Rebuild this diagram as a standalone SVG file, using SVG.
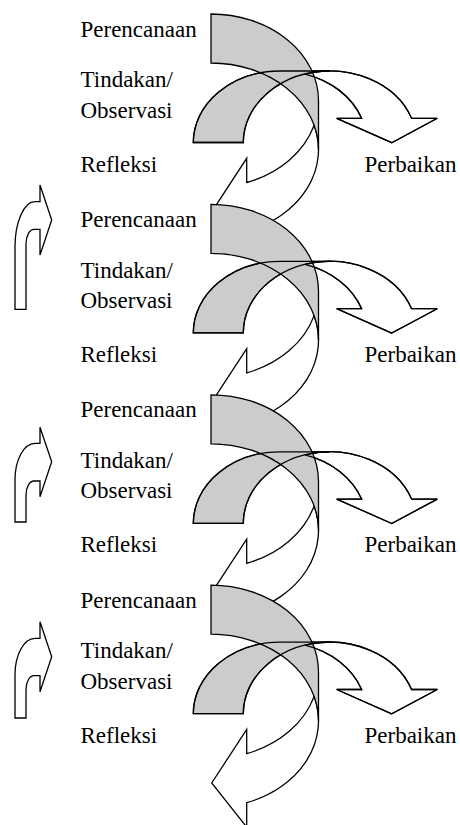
<svg xmlns="http://www.w3.org/2000/svg" xmlns:xlink="http://www.w3.org/1999/xlink" width="460" height="825" viewBox="0 0 460 825">
<style>
.ln { stroke:#000; stroke-width:1.3; stroke-linejoin:miter; }
.w { fill:#ffffff; }
.g { fill:#cccccc; }
.o { fill:none; }
text { font-family:"Liberation Serif","Times New Roman",serif; font-size:23px; fill:#000; }
</style>
<defs>
  <path id="cFront" d="M 211.7,211.8 L 246.7,158.3 L 246.7,182.5 A 107.5 86.7 0 0 0 314.1,125.2 A 107.5 86.7 0 0 1 246.7,231.5 L 246.7,255.9 Z"/>
  <path id="cBack" d="M 318.5,149.7 A 107.5 86.7 0 0 0 211,63 L 211,14 A 107.5 86.7 0 0 1 318.5,100.7 Z"/>
  <path id="bBack" d="M 193.3,142.5 A 86.7 71.5 0 0 1 280,71 L 330,71 A 86.7 71.5 0 0 0 243.3,142.5 Z"/>
  <path id="bFront" d="M 391.7,142.7 L 336.7,118.3 L 361.6,118.3 A 86.7 71.5 0 0 0 305,74.04 A 86.7 71.5 0 0 1 411.6,118.3 L 437.3,118.3 Z"/>
</defs>

<g id="connectors">
  <g id="cycle1">
    <g id="refleksi-arrow-1"><use xlink:href="#cFront" class="w ln"/></g>
    <g id="tindakan-arrow-1"><use xlink:href="#bFront" class="w ln"/><use xlink:href="#bBack" class="g ln"/></g>
    <g id="perencanaan-arrow-1"><use xlink:href="#cBack" class="g ln"/></g>
    <use xlink:href="#bBack" class="o ln"/><use xlink:href="#bFront" class="o ln"/>
  </g>
  <g id="cycle2" transform="translate(0,190.4)">
    <g id="refleksi-arrow-2"><use xlink:href="#cFront" class="w ln"/></g>
    <g id="tindakan-arrow-2"><use xlink:href="#bFront" class="w ln"/><use xlink:href="#bBack" class="g ln"/></g>
    <g id="perencanaan-arrow-2"><use xlink:href="#cBack" class="g ln"/></g>
    <use xlink:href="#bBack" class="o ln"/><use xlink:href="#bFront" class="o ln"/>
  </g>
  <g id="cycle3" transform="translate(0,380.8)">
    <g id="refleksi-arrow-3"><use xlink:href="#cFront" class="w ln"/></g>
    <g id="tindakan-arrow-3"><use xlink:href="#bFront" class="w ln"/><use xlink:href="#bBack" class="g ln"/></g>
    <g id="perencanaan-arrow-3"><use xlink:href="#cBack" class="g ln"/></g>
    <use xlink:href="#bBack" class="o ln"/><use xlink:href="#bFront" class="o ln"/>
  </g>
  <g id="cycle4" transform="translate(0,571.2)">
    <g id="refleksi-arrow-4"><use xlink:href="#cFront" class="w ln"/></g>
    <g id="tindakan-arrow-4"><use xlink:href="#bFront" class="w ln"/><use xlink:href="#bBack" class="g ln"/></g>
    <g id="perencanaan-arrow-4"><use xlink:href="#cBack" class="g ln"/></g>
    <use xlink:href="#bBack" class="o ln"/><use xlink:href="#bFront" class="o ln"/>
  </g>
</g>

<g id="up-arrow-1"><path class="w ln" d="M 15,309.3 L 15,247 A 20 45.3 0 0 1 35,201.7 L 40,201.7 L 40,185 L 51.7,220 L 40,255 L 40,229.3 L 34,229.3 A 8 14.7 0 0 0 26,244 L 26,309.3 Z"/></g>
<g id="up-arrow-2"><path class="w ln" d="M 15,522 L 15,480 A 20 36.7 0 0 1 35,443.3 L 40,443.3 L 40,427.3 L 51.7,461.7 L 40,496.7 L 40,481 L 34,481 A 8 14 0 0 0 26,495 L 26,522 Z"/></g>
<g id="up-arrow-3"><path class="w ln" d="M 15,718 L 15,675 A 20 36.7 0 0 1 35,638.3 L 40,638.3 L 40,621.7 L 51.7,656.7 L 40,691.7 L 40,675.7 L 34,675.7 A 8 14 0 0 0 26,689.7 L 26,718 Z"/></g>

<g id="labels1">
  <text x="80.5" y="36.5">Perencanaan</text>
  <text x="80.5" y="87.3">Tindakan/</text>
  <text x="80.5" y="117.5">Observasi</text>
  <text x="80.5" y="171.5">Refleksi</text>
  <text x="364.5" y="171.5">Perbaikan</text>
</g>
<g id="labels2" transform="translate(0,190.4)">
  <text x="80.5" y="36.5">Perencanaan</text>
  <text x="80.5" y="87.3">Tindakan/</text>
  <text x="80.5" y="117.5">Observasi</text>
  <text x="80.5" y="171.5">Refleksi</text>
  <text x="364.5" y="171.5">Perbaikan</text>
</g>
<g id="labels3" transform="translate(0,380.8)">
  <text x="80.5" y="36.5">Perencanaan</text>
  <text x="80.5" y="87.3">Tindakan/</text>
  <text x="80.5" y="117.5">Observasi</text>
  <text x="80.5" y="171.5">Refleksi</text>
  <text x="364.5" y="171.5">Perbaikan</text>
</g>
<g id="labels4" transform="translate(0,571.2)">
  <text x="80.5" y="36.5">Perencanaan</text>
  <text x="80.5" y="87.3">Tindakan/</text>
  <text x="80.5" y="117.5">Observasi</text>
  <text x="80.5" y="171.5">Refleksi</text>
  <text x="364.5" y="171.5">Perbaikan</text>
</g>
</svg>
